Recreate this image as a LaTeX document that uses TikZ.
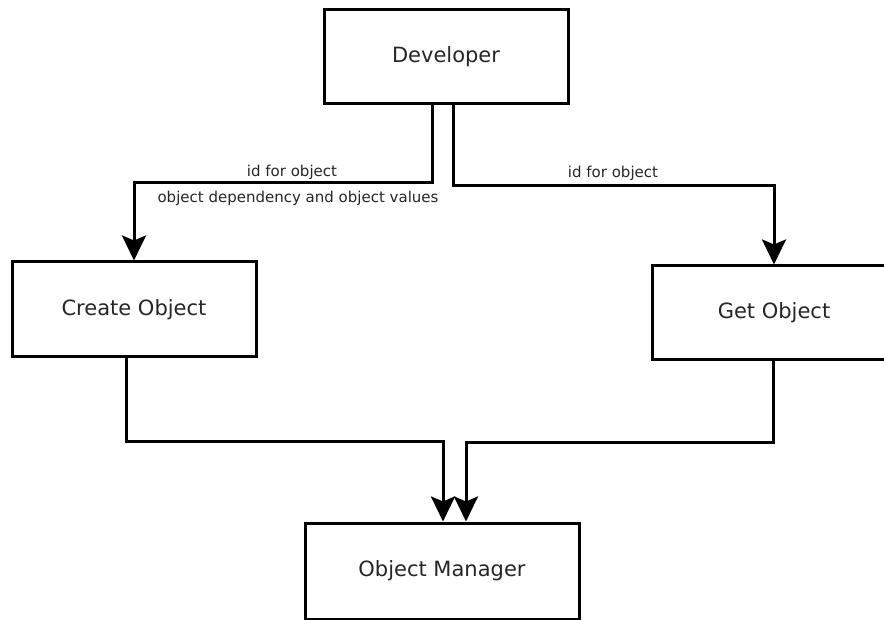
\documentclass[tikz,border=0pt]{standalone}
\usepackage{fontspec}
\setmainfont{DejaVu Sans}
\usetikzlibrary{arrows.meta}

\tikzset{
  box/.style={draw=black, line width=3pt, fill=white, rectangle,
    inner sep=0pt, font=\fontsize{21}{25}\selectfont, text=black!85},
  flow/.style={draw=black, line width=3pt,
    -{Stealth[length=25pt, width=24pt, inset=5pt]}},
  lbl/.style={font=\fontsize{15}{18}\selectfont, text=black!85, inner sep=0pt}
}

\begin{document}
\begin{tikzpicture}[x=1pt, y=-1pt]
  \clip (0,0) rectangle (884,620);
  \useasboundingbox (0,0) rectangle (884,620);

  % boxes
  \node[box, minimum width=244pt, minimum height=94pt] (dev)    at (446,57)  {Developer};
  \node[box, minimum width=244pt, minimum height=95pt] (create) at (134,309.5) {Create Object};
  \node[box, minimum width=244pt, minimum height=94pt] (get)    at (774,313) {Get Object};
  \node[box, minimum width=274pt, minimum height=96pt] (mgr)    at (442,571) {Object Manager};

  % bends of the connectors
  \coordinate (j1) at (134,183);
  \coordinate (j2) at (774,186);
  \coordinate (j3) at (126,441);
  \coordinate (j4) at (443,441);
  \coordinate (j5) at (773,442);
  \coordinate (j6) at (466,442);

  % developer to the two operations
  \draw[flow] ([xshift=-14pt]dev.south) |- (j1) -- (create.north);
  \draw[flow] ([xshift=7pt]dev.south) |- (j2) -- (get.north);

  % operations to the manager
  \draw[flow] (create.south -| j3) -- (j3) -- (j4) -- (mgr.north -| j4);
  \draw[flow] (get.south -| j5) -- (j5) -- (j6) -- (mgr.north -| j6);

  % connector labels
  \node[lbl] (l1) at (292,172) {id for object};
  \node[lbl] (l2) at (298,198) {object dependency and object values};
  \node[lbl] (l3) at (613,173) {id for object};
\end{tikzpicture}
\end{document}
